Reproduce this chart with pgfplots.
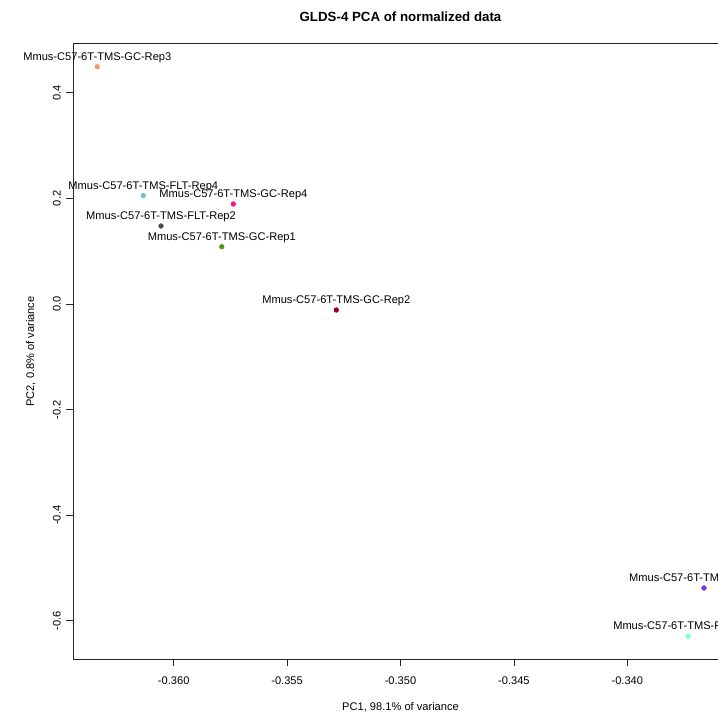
\documentclass[border=0pt]{standalone}
\usepackage{pgfplots}
\pgfplotsset{compat=1.18}
\usepackage{fontspec}
\setmainfont{Liberation Sans}
\definecolor{cA}{HTML}{F2937A}
\definecolor{cB}{HTML}{70C0D4}
\definecolor{cC}{HTML}{F0168C}
\definecolor{cD}{HTML}{4D4D4D}
\definecolor{cE}{HTML}{4A9A12}
\definecolor{cF}{HTML}{9E0010}
\definecolor{cG}{HTML}{8A2BE2}
\definecolor{cH}{HTML}{7FFFD4}
\newcommand{\lbl}{\fontsize{11.1bp}{13bp}\selectfont}
\begin{document}
\begin{tikzpicture}
\useasboundingbox (0bp,0bp) rectangle (718bp,712bp);
\begin{axis}[
  at={(73bp,52.9bp)}, anchor=south west,
  scale only axis, width=655bp, height=615.2bp,
  xmin=-0.36444, xmax=-0.33556, ymin=-0.6726, ymax=0.4926,
  clip=false,
  axis line style={black!85, line width=0.8bp},
  xtick align=outside, ytick align=outside,
  major tick length=7bp,
  tick style={draw=black!85, line width=0.8bp, solid},
  xtick pos=left, ytick pos=left,
  xtick={-0.360,-0.355,-0.350,-0.345,-0.340},
  xticklabels={-0.360,-0.355,-0.350,-0.345,-0.340},
  ytick={-0.6,-0.4,-0.2,0,0.2,0.4},
  yticklabels={-0.6,-0.4,-0.2,0.0,0.2,0.4},
  ticklabel style={font=\lbl},
  xticklabel style={anchor=north, inner sep=0pt},
  yticklabel style={rotate=90, anchor=south, inner sep=0pt},
  xticklabel shift=10bp, yticklabel shift=5bp,
  every node near coord/.append style={text=black, font=\lbl, anchor=base, yshift=6.3bp, inner sep=0pt},
  pt/.style={only marks, mark=*, mark size=2.4bp},
]
\addplot[pt, cA, nodes near coords={Mmus-C57-6T-TMS-GC-Rep3}] coordinates {(-0.36337,0.4494)};
\addplot[pt, cB, nodes near coords={Mmus-C57-6T-TMS-FLT-Rep4}] coordinates {(-0.36134,0.2051)};
\addplot[pt, cC, nodes near coords={Mmus-C57-6T-TMS-GC-Rep4}] coordinates {(-0.35737,0.1894)};
\addplot[pt, cD, nodes near coords={Mmus-C57-6T-TMS-FLT-Rep2}] coordinates {(-0.36056,0.1477)};
\addplot[pt, cE, nodes near coords={Mmus-C57-6T-TMS-GC-Rep1}] coordinates {(-0.35788,0.1085)};
\addplot[pt, cF, nodes near coords={Mmus-C57-6T-TMS-GC-Rep2}] coordinates {(-0.35283,-0.01136)};
\addplot[pt, cG, nodes near coords={Mmus-C57-6T-TMS-FLT-Rep1}] coordinates {(-0.33662,-0.5379)};
\addplot[pt, cH, nodes near coords={Mmus-C57-6T-TMS-FLT-Rep3}] coordinates {(-0.33732,-0.6294)};
\foreach \t in {-0.360,-0.355,-0.350,-0.345,-0.340}
  {\edef\tmp{\noexpand\draw[black!85, line width=0.8bp] (axis cs:\t,-0.6726) -- ([yshift=-7bp]axis cs:\t,-0.6726);}\tmp}
\foreach \t in {-0.6,-0.4,-0.2,0,0.2,0.4}
  {\edef\tmp{\noexpand\draw[black!85, line width=0.8bp] (axis cs:-0.36444,\t) -- ([xshift=-7bp]axis cs:-0.36444,\t);}\tmp}
\end{axis}
\node[anchor=base, inner sep=0pt, font={\fontsize{13.3bp}{15bp}\selectfont\bfseries}] at (400.5bp,690.5bp) {GLDS-4 PCA of normalized data};
\node[anchor=base, inner sep=0pt, font=\lbl] at (400.5bp,1.3bp) {PC1, 98.1\% of variance};
\node[anchor=base, inner sep=0pt, rotate=90, font=\lbl] at (34bp,360.5bp) {PC2, 0.8\% of variance};
\end{tikzpicture}
\end{document}
